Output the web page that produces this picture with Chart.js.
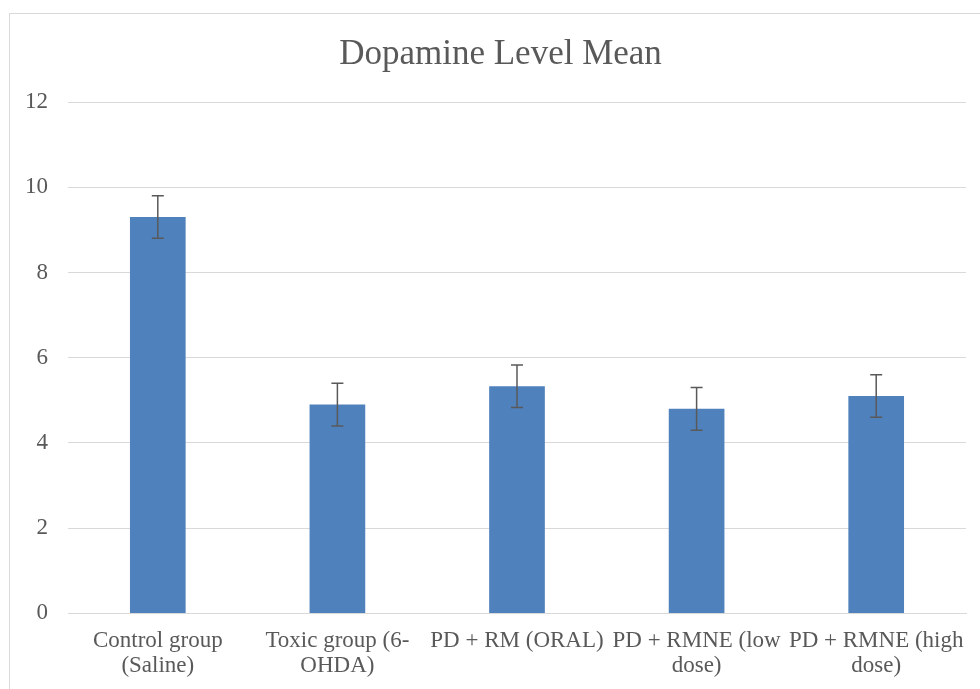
<!DOCTYPE html>
<html>
<head>
<meta charset="utf-8">
<script src="https://cdn.jsdelivr.net/npm/chart.js@4/dist/chart.umd.min.js"></script>
<style>
  html, body { margin: 0; padding: 0; background: #fff; overflow: hidden; }
  #wrap { position: relative; width: 980px; height: 689px; overflow: hidden; }
  #frame { position: absolute; left: 9px; top: 13px; width: 1000px; height: 700px; border: 1px solid #d9d9d9; box-sizing: border-box; }
  canvas { position: absolute; left: 0; top: 0; }
</style>
</head>
<body>
<div id="wrap">
  <div id="frame"></div>
  <canvas id="chart" width="980" height="700"></canvas>
</div>
<script>
const groups = [
  ["Control group", "(Saline)"],
  ["Toxic group (6-", "OHDA)"],
  ["PD + RM (ORAL)"],
  ["PD + RMNE (low", "dose)"],
  ["PD + RMNE (high", "dose)"]
];
const meanLevel = [9.3, 4.9, 5.33, 4.8, 5.1];
const errLevel = [0.5, 0.5, 0.5, 0.5, 0.5];
const yTicks = [0, 2, 4, 6, 8, 10, 12];

const textColor = "#595959";
const serif = "'Liberation Serif', 'Times New Roman', serif";

// draws the +/- error whiskers on each bar
const errorBars = {
  id: "errorBars",
  afterDatasetsDraw(chart) {
    const ctx = chart.ctx;
    const yScale = chart.scales.y;
    const meta = chart.getDatasetMeta(0);
    ctx.save();
    ctx.strokeStyle = "#595959";
    ctx.lineWidth = 1.5;
    meta.data.forEach((bar, i) => {
      const x = bar.x;
      const top = yScale.getPixelForValue(meanLevel[i] + errLevel[i]);
      const bot = yScale.getPixelForValue(meanLevel[i] - errLevel[i]);
      ctx.beginPath();
      ctx.moveTo(x, top); ctx.lineTo(x, bot);
      ctx.moveTo(x - 6, top); ctx.lineTo(x + 6, top);
      ctx.moveTo(x - 6, bot); ctx.lineTo(x + 6, bot);
      ctx.stroke();
    });
    ctx.restore();
  }
};

// the original chart is cropped on the right, so its title sits a bit right of our centre
const titleShift = {
  id: "titleShift",
  afterLayout(chart) {
    chart.titleBlock.left += 15;
    chart.titleBlock.right += 15;
  }
};

new Chart(document.getElementById("chart"), {
  type: "bar",
  data: {
    labels: groups,
    datasets: [{
      data: meanLevel,
      backgroundColor: "#4f81bd",
      barPercentage: 0.31,
      categoryPercentage: 1
    }]
  },
  options: {
    responsive: false,
    animation: false,
    layout: { padding: { left: 5, right: 14, top: 0, bottom: 14 } },
    plugins: {
      legend: { display: false },
      tooltip: { enabled: false },
      title: {
        display: true,
        text: "Dopamine Level Mean",
        color: textColor,
        font: { family: serif, size: 35, weight: "normal" },
        padding: { top: 34, bottom: 26 }
      }
    },
    scales: {
      x: {
        grid: { display: false },
        border: { color: "#d9d9d9", width: 1 },
        ticks: {
          color: textColor,
          font: { family: serif, size: 23, lineHeight: 1.1 },
          padding: 7,
          maxRotation: 0,
          autoSkip: false
        }
      },
      y: {
        min: 0,
        max: 12,
        afterBuildTicks(axis) { axis.ticks = yTicks.map(v => ({ value: v })); },
        grid: { color: "#d9d9d9", lineWidth: 1, drawTicks: false },
        border: { display: false },
        ticks: {
          color: textColor,
          font: { family: serif, size: 23 },
          padding: 20
        }
      }
    }
  },
  plugins: [errorBars, titleShift]
});
</script>
</body>
</html>
